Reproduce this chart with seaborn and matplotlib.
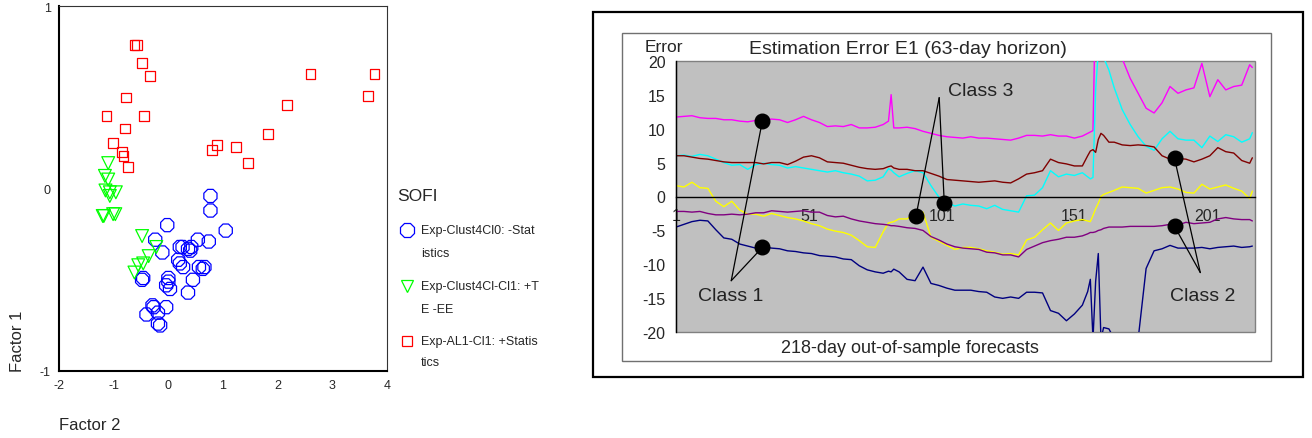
import numpy as np
import pandas as pd
import matplotlib
matplotlib.use("Agg")
import matplotlib.pyplot as plt
import seaborn as sns
from matplotlib.lines import Line2D
from matplotlib.patches import Rectangle

# ---------------- Left panel: factor scatter ----------------
clust0_x = [0.77, 0.77, -0.02, 1.05, -0.24, 0.54, 0.74, -0.11, 0.21, 0.26, 0.36, 0.40, 0.42,
            0.18, 0.21, 0.27, 0.56, 0.63, 0.66, 0.45, 0.00, 0.00, -0.04, 0.03, 0.36, -0.46,
            -0.48, -0.29, -0.27, -0.04, -0.40, -0.19, -0.19, -0.15]
clust0_y = [-0.04, -0.12, -0.20, -0.23, -0.28, -0.28, -0.29, -0.35, -0.32, -0.32, -0.33, -0.34, -0.32,
            -0.39, -0.41, -0.43, -0.43, -0.44, -0.43, -0.50, -0.49, -0.51, -0.53, -0.55, -0.57, -0.49,
            -0.50, -0.64, -0.65, -0.65, -0.69, -0.68, -0.74, -0.75]
clust1_x = [-1.10, -1.16, -1.10, -1.15, -1.07, -0.96, -1.07, -1.20, -1.18, -1.01, -0.97,
            -0.48, -0.22, -0.36, -0.46, -0.55, -0.62]
clust1_y = [0.14, 0.07, 0.05, -0.01, -0.02, -0.02, -0.04, -0.15, -0.15, -0.14, -0.14,
            -0.26, -0.32, -0.37, -0.41, -0.42, -0.46]
al1_x = [-0.62, -0.57, -0.48, -0.34, -0.77, -1.13, -0.45, -0.80, -1.01, -0.85, -0.82, -0.74,
         0.80, 0.89, 1.24, 1.46, 1.82, 2.17, 2.60, 3.65, 3.77]
al1_y = [0.79, 0.79, 0.69, 0.62, 0.50, 0.40, 0.40, 0.33, 0.25, 0.20, 0.18, 0.12,
         0.21, 0.24, 0.23, 0.14, 0.30, 0.46, 0.63, 0.51, 0.63]
legend_title = "SOFI"
group_lines = [("Exp-Clust4Cl0: -Stat", "istics"),
               ("Exp-Clust4Cl-Cl1: +T", "E -EE"),
               ("Exp-AL1-Cl1: +Statis", "tics")]
group_colors = ["#0000ff", "#00ff00", "#ff0000"]
group_markers = ["8", "v", "s"]
group_sizes = [105, 85, 50]

# ---------------- Right panel: estimation error ----------------
days = [1, 4, 7, 10, 13, 16, 19, 22, 25, 28, 31, 34, 37, 40, 43, 46, 49, 52, 55, 58, 61, 64, 67, 70, 73, 76, 79,
        81, 82, 83,
        85, 88, 91, 94, 97, 100, 103, 106, 109, 112, 115, 118, 121, 124, 127, 130, 133, 136, 139, 142, 145, 148, 151, 154,
        156, 157, 158, 159, 160, 161, 162, 164, 166,
        169, 172, 175, 178, 181, 184, 187, 190, 193, 196, 199, 202, 205, 208, 211, 214, 217,
        218]
magenta = [11.7, 11.8, 11.9, 11.6, 11.5, 11.5, 11.3, 11.3, 11.1, 11.0, 11.2, 11.3, 11.4, 11.3, 10.9, 11.3, 11.8, 11.3, 10.9, 10.3, 10.4, 10.3, 10.6, 10.1, 10.1, 10.2, 10.6,
           11.1, 15.0, 10.1,
           10.1, 10.2, 10.0, 9.6, 9.3, 9.0, 8.8, 8.7, 8.6, 8.8, 8.6, 8.6, 8.5, 8.4, 8.3, 8.6, 9.0, 9.0, 8.9, 9.1, 8.9, 8.9, 8.6, 8.9,
           9.3, 9.5, 9.7, 30, 30, 30, 30, 30, 28,
           20.3, 17.4, 15.2, 13.0, 12.3, 13.8, 16.2, 15.2, 15.7, 16.0, 19.6, 14.7, 17.2, 15.7, 16.2, 16.4, 19.4,
           19.0]
cyan = [6.0, 6.1, 5.9, 6.2, 6.0, 5.5, 5.0, 4.6, 4.7, 4.0, 4.7, 4.9, 4.7, 4.6, 4.2, 4.4, 4.2, 4.0, 3.8, 3.6, 3.8, 3.5, 3.3, 3.0, 2.3, 2.4, 2.9,
        4.1, 3.9, 3.5,
        2.9, 3.4, 3.8, 3.5, 1.6, -0.1, -0.9, -1.4, -1.1, -1.3, -1.4, -1.8, -1.3, -1.9, -2.1, -2.3, 0.1, 0.2, 1.3, 3.8, 2.9, 3.3, 3.1, 3.5,
        2.9, 2.6, 2.8, 15.7, 21.5, 22.0, 20.5, 18.6, 16.0,
        12.8, 10.6, 8.8, 7.4, 6.8, 8.5, 9.6, 8.5, 8.3, 8.3, 7.2, 8.9, 8.1, 9.1, 8.8, 8.0, 8.5,
        9.4]
maroon = [6.0, 6.0, 5.8, 5.6, 5.5, 5.3, 5.1, 5.0, 5.0, 5.0, 5.0, 4.8, 5.0, 5.0, 4.7, 5.2, 5.8, 6.0, 5.7, 5.1, 5.0, 4.9, 4.6, 4.3, 4.1, 4.0, 4.1,
          4.4, 4.5, 4.2,
          4.0, 4.0, 3.8, 3.8, 3.4, 3.0, 2.5, 2.4, 2.3, 2.2, 2.1, 2.2, 2.3, 2.1, 2.0, 2.6, 3.3, 3.5, 3.8, 5.5, 5.0, 4.8, 4.5, 4.5,
          6.0, 6.7, 6.9, 6.5, 8.4, 9.3, 9.0, 8.0, 8.0,
          7.6, 7.5, 7.6, 7.5, 7.3, 6.0, 5.5, 5.6, 5.5, 5.1, 5.5, 6.0, 7.2, 6.6, 6.4, 5.3, 4.9,
          5.7]
yellow = [1.6, 1.4, 2.1, 1.3, 1.2, -0.7, -1.5, -0.7, -2.0, -2.6, -2.6, -2.9, -2.5, -2.8, -3.1, -3.3, -3.6, -4.0, -4.3, -4.8, -5.1, -5.3, -5.7, -6.5, -7.4, -7.5, -5.2,
          -3.9, -3.8, -3.7,
          -3.3, -3.3, -2.5, -2.3, -6.0, -6.6, -7.2, -7.8, -7.5, -7.5, -7.7, -8.0, -8.2, -8.5, -8.4, -8.6, -6.4, -6.0, -4.9, -3.9, -5.0, -3.9, -3.6, -3.4,
          -3.6, -3.7, -2.8, -1.8, -1.0, 0.0, 0.3, 0.6, 0.9,
          1.4, 1.3, 1.2, 0.5, 0.9, 1.3, 1.4, 1.1, 0.6, 0.5, 1.8, 1.1, 1.4, 1.7, 1.2, 0.8, -0.3,
          0.8]
purple = [-2.2, -2.2, -2.3, -2.2, -2.5, -2.7, -2.7, -2.6, -2.7, -2.6, -2.4, -2.4, -2.1, -2.2, -2.3, -2.2, -2.1, -2.3, -2.3, -2.8, -3.0, -2.9, -3.3, -3.6, -3.8, -4.0, -4.1,
          -4.2, -4.3, -4.3,
          -4.4, -4.6, -4.7, -5.0, -5.9, -6.4, -7.0, -7.4, -7.6, -7.7, -7.8, -8.2, -8.3, -8.6, -8.6, -8.9, -7.8, -7.3, -6.8, -6.5, -6.3, -6.0, -6.0, -5.8,
          -5.5, -5.3, -5.3, -5.2, -5.0, -4.9, -4.7, -4.5, -4.5,
          -4.5, -4.4, -4.4, -4.4, -4.4, -4.3, -4.1, -4.2, -3.8, -4.0, -3.9, -3.8, -3.3, -3.1, -3.3, -3.4, -3.4,
          -3.6]
navy = [-4.5, -4.1, -3.7, -3.5, -3.6, -4.9, -6.1, -6.3, -7.0, -7.3, -7.6, -7.4, -7.6, -7.7, -8.0, -8.1, -8.3, -8.4, -8.7, -8.8, -8.9, -9.2, -9.3, -10.2, -10.8, -11.1, -11.3,
        -11.0, -11.1, -10.7,
        -11.1, -12.2, -12.4, -10.4, -12.8, -13.1, -13.5, -13.8, -13.8, -13.8, -14.0, -14.1, -14.8, -15.0, -14.8, -15.0, -14.1, -14.1, -14.2, -16.8, -17.2, -18.3, -17.3, -16.0,
        -14.0, -12.2, -21.0, -12.5, -8.4, -21.0, -19.3, -19.5, -21.0,
        -22.0, -22.0, -21.0, -10.6, -8.0, -7.7, -7.2, -7.6, -7.6, -7.6, -7.5, -7.7, -7.5, -7.4, -7.3, -7.5, -7.4,
        -7.3]
series_names = ["magenta", "cyan", "maroon", "yellow", "purple", "navy"]
series_colors = {"magenta": "#ff00ff", "cyan": "#00ffff", "maroon": "#800000",
                 "yellow": "#ffff00", "purple": "#800080", "navy": "#000080"}
x_ticks = [1, 51, 101, 151, 201]
y_ticks = [-20, -15, -10, -5, 0, 5, 10, 15, 20]

# annotations (data units)
class_names = ["Class 1", "Class 3", "Class 2"]
class_label_x = [21.5, 115.8, 199.3]
class_label_y = [-14.6, 15.6, -14.6]
class_vertex_x = [21.8, 100.1, 198.4]
class_vertex_y = [-12.4, 14.55, -11.2]
class_dot_x = [[33.5, 33.5], [91.35, 102.0], [188.7, 188.7]]
class_dot_y = [[11.1, -7.5], [-2.9, -0.9], [5.6, -4.4]]

# ---------------- figure ----------------
sns.set_style("white")
plt.rcParams['font.family'] = ['Liberation Sans', 'DejaVu Sans']
W, H = 1312, 439
fig = plt.figure(figsize=(W / 100, H / 100), dpi=100)
fig.patch.set_facecolor("white")

def fx(px):
    return px / W

def fy(py):
    return 1 - py / H

# ----- left scatter -----
ax1 = fig.add_axes([fx(59), fy(372), (387 - 59) / W, (372 - 7.3) / H])
groups = [(clust0_x, clust0_y), (clust1_x, clust1_y), (al1_x, al1_y)]
for (gx, gy), col, mk, sz in zip(groups, group_colors, group_markers, group_sizes):
    sns.scatterplot(x=gx, y=gy, marker=mk, s=sz, color=col, ax=ax1, legend=False)
    coll = ax1.collections[-1]
    coll.set_facecolor("none")
    coll.set_edgecolor(col)
    coll.set_linewidth(0.9)
ax1.set_xlim(-2, 4)
ax1.set_ylim(-1, 1)
ax1.set_xticks([-2, -1, 0, 1, 2, 3, 4])
ax1.set_yticks([-1, 0, 1])
ax1.set_xticklabels(["-2", "-1", "0", "1", "2", "3", "4"])
ax1.set_yticklabels(["-1", "0", "1"])
ax1.tick_params(axis="both", direction="out", length=3, width=1, labelsize=9, pad=3, color="black")
for side in ["left", "bottom"]:
    ax1.spines[side].set_linewidth(1.5)
    ax1.spines[side].set_color("black")
for side in ["top", "right"]:
    ax1.spines[side].set_linewidth(0.8)
    ax1.spines[side].set_color("#333333")
ax1.set_facecolor("white")
fig.text(fx(59), fy(426), "Factor 2", ha="left", va="center", fontsize=12)
fig.text(fx(17), fy(372), "Factor 1", ha="center", va="bottom", rotation=90, fontsize=12)

# legend drawn manually
fig.text(fx(397), fy(197), legend_title, ha="left", va="center", fontsize=12.5)
entry_y = [(231, 254), (287, 310), (342, 363)]
for (l1, l2), (y1, y2), col, mk, sz in zip(group_lines, entry_y, group_colors, group_markers, group_sizes):
    fig.add_artist(Line2D([fx(407)], [fy(y1)], transform=fig.transFigure, marker=mk,
                          markersize=np.sqrt(sz), markerfacecolor="none", markeredgecolor=col,
                          markeredgewidth=0.9, linestyle="none"))
    fig.text(fx(421), fy(y1), l1, ha="left", va="center", fontsize=9)
    fig.text(fx(421), fy(y2), l2, ha="left", va="center", fontsize=9)

# ----- right chart frames -----
fig.add_artist(Rectangle((fx(593), fy(378)), (1303 - 593) / W, (378 - 13) / H,
                         transform=fig.transFigure, fill=False, edgecolor="black", linewidth=1.6))
fig.add_artist(Rectangle((fx(622), fy(362)), (1271 - 622) / W, (362 - 34) / H,
                         transform=fig.transFigure, fill=False, edgecolor="#707070", linewidth=1.0))

ax2 = fig.add_axes([fx(676), fy(333.3), (1255 - 676) / W, (333.3 - 61.7) / H])
ax2.set_facecolor("#c0c0c0")
df = pd.DataFrame({
    "day": days * len(series_names),
    "error": magenta + cyan + maroon + yellow + purple + navy,
    "series": sum([[n] * len(days) for n in series_names], []),
})
sns.lineplot(data=df, x="day", y="error", hue="series", palette=series_colors,
             estimator=None, sort=False, legend=False, linewidth=1.0, ax=ax2)
ax2.set_xlim(1, 219)
ax2.set_ylim(-20, 20)
ax2.set_xlabel("")
ax2.set_ylabel("")
ax2.spines["top"].set_visible(False)
ax2.spines["right"].set_visible(False)
ax2.spines["bottom"].set_position(("data", 0))
ax2.spines["bottom"].set_color("black")
ax2.spines["bottom"].set_linewidth(1.0)
ax2.spines["left"].set_color("black")
ax2.spines["left"].set_linewidth(1.0)
ax2.add_patch(Rectangle((0, 0), 1, 1, transform=ax2.transAxes, fill=False,
                        edgecolor="#808080", linewidth=1.0, clip_on=False, zorder=0.5))
ax2.set_xticks(x_ticks)
ax2.set_xticklabels([str(t) for t in x_ticks])
ax2.set_yticks(y_ticks)
ax2.set_yticklabels([str(t) for t in y_ticks])
ax2.tick_params(axis="y", direction="out", length=4.5, width=0.9, labelsize=11.5, pad=3, color="black")
ax2.tick_params(axis="x", direction="out", length=3, width=0.9, labelsize=11.5, pad=5, color="black")
ax2.grid(False)

# annotations
for name, lx, ly, vx, vy, dxs, dys in zip(class_names, class_label_x, class_label_y,
                                          class_vertex_x, class_vertex_y, class_dot_x, class_dot_y):
    for dx, dy in zip(dxs, dys):
        ax2.annotate("", xy=(dx, dy), xytext=(vx, vy),
                     arrowprops=dict(arrowstyle="-", color="black", lw=0.9, shrinkA=0, shrinkB=0),
                     zorder=4)
    ax2.plot(dxs, dys, linestyle="none", marker="o", markersize=10.5, color="black", zorder=5)
    ax2.text(lx, ly, name, ha="center", va="center", fontsize=14, color="#222222", zorder=6)

fig.text(fx(907.5), fy(49), "Estimation Error E1 (63-day horizon)", ha="center", va="center", fontsize=14)
fig.text(fx(664), fy(47), "Error", ha="center", va="center", fontsize=12.5)
fig.text(fx(910), fy(349), "218-day out-of-sample forecasts", ha="center", va="center", fontsize=13)

fig.savefig("out.png", dpi=100, facecolor="white")
